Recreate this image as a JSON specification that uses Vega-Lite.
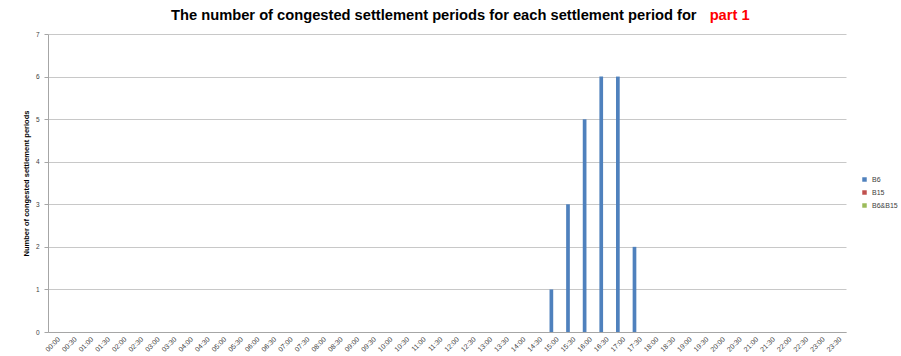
{
  "$schema": "https://vega.github.io/schema/vega-lite/v6.json",
  "width": 798,
  "height": 298,
  "autosize": {"type": "none"},
  "padding": {"left": 48, "top": 34, "right": 55, "bottom": 24},
  "background": "white",
  "title": {
    "text": "The number of congested settlement periods for each settlement period for",
    "subtitle": "\u200b\u00a0\u00a0\u00a0\u00a0\u00a0\u00a0\u00a0\u00a0\u00a0\u00a0\u00a0\u00a0\u00a0\u00a0\u00a0\u00a0\u00a0\u00a0\u00a0\u00a0\u00a0\u00a0\u00a0\u00a0\u00a0\u00a0\u00a0\u00a0\u00a0\u00a0\u00a0\u00a0\u00a0\u00a0\u00a0\u00a0\u00a0\u00a0\u00a0\u00a0\u00a0\u00a0\u00a0\u00a0\u00a0\u00a0\u00a0\u00a0\u00a0\u00a0\u00a0\u00a0\u00a0\u00a0\u00a0\u00a0\u00a0\u00a0\u00a0\u00a0\u00a0\u00a0\u00a0\u00a0\u00a0\u00a0\u00a0\u00a0\u00a0\u00a0\u00a0\u00a0\u00a0\u00a0\u00a0\u00a0\u00a0\u00a0\u00a0\u00a0\u00a0\u00a0\u00a0\u00a0\u00a0\u00a0\u00a0\u00a0\u00a0\u00a0\u00a0\u00a0\u00a0\u00a0\u00a0\u00a0\u00a0\u00a0\u00a0\u00a0\u00a0\u00a0\u00a0\u00a0\u00a0\u00a0\u00a0\u00a0\u00a0\u00a0\u00a0\u00a0\u00a0\u00a0\u00a0\u00a0\u00a0\u00a0\u00a0\u00a0\u00a0\u00a0\u00a0\u00a0\u00a0\u00a0\u00a0\u00a0\u00a0\u00a0\u00a0\u00a0part 1",
    "anchor": "start",
    "frame": "group",
    "dx": 123,
    "offset": 8,
    "font": "Liberation Sans",
    "fontSize": 14.7,
    "fontWeight": "bold",
    "color": "black",
    "subtitleFont": "Liberation Sans",
    "subtitleFontSize": 14.7,
    "subtitleFontWeight": "bold",
    "subtitleColor": "#ff0000",
    "subtitlePadding": -14.7
  },
  "data": {
    "values": [
      {"time": "00:00", "series": "B6", "count": 0},
      {"time": "00:30", "series": "B6", "count": 0},
      {"time": "01:00", "series": "B6", "count": 0},
      {"time": "01:30", "series": "B6", "count": 0},
      {"time": "02:00", "series": "B6", "count": 0},
      {"time": "02:30", "series": "B6", "count": 0},
      {"time": "03:00", "series": "B6", "count": 0},
      {"time": "03:30", "series": "B6", "count": 0},
      {"time": "04:00", "series": "B6", "count": 0},
      {"time": "04:30", "series": "B6", "count": 0},
      {"time": "05:00", "series": "B6", "count": 0},
      {"time": "05:30", "series": "B6", "count": 0},
      {"time": "06:00", "series": "B6", "count": 0},
      {"time": "06:30", "series": "B6", "count": 0},
      {"time": "07:00", "series": "B6", "count": 0},
      {"time": "07:30", "series": "B6", "count": 0},
      {"time": "08:00", "series": "B6", "count": 0},
      {"time": "08:30", "series": "B6", "count": 0},
      {"time": "09:00", "series": "B6", "count": 0},
      {"time": "09:30", "series": "B6", "count": 0},
      {"time": "10:00", "series": "B6", "count": 0},
      {"time": "10:30", "series": "B6", "count": 0},
      {"time": "11:00", "series": "B6", "count": 0},
      {"time": "11:30", "series": "B6", "count": 0},
      {"time": "12:00", "series": "B6", "count": 0},
      {"time": "12:30", "series": "B6", "count": 0},
      {"time": "13:00", "series": "B6", "count": 0},
      {"time": "13:30", "series": "B6", "count": 0},
      {"time": "14:00", "series": "B6", "count": 0},
      {"time": "14:30", "series": "B6", "count": 0},
      {"time": "15:00", "series": "B6", "count": 1},
      {"time": "15:30", "series": "B6", "count": 3},
      {"time": "16:00", "series": "B6", "count": 5},
      {"time": "16:30", "series": "B6", "count": 6},
      {"time": "17:00", "series": "B6", "count": 6},
      {"time": "17:30", "series": "B6", "count": 2},
      {"time": "18:00", "series": "B6", "count": 0},
      {"time": "18:30", "series": "B6", "count": 0},
      {"time": "19:00", "series": "B6", "count": 0},
      {"time": "19:30", "series": "B6", "count": 0},
      {"time": "20:00", "series": "B6", "count": 0},
      {"time": "20:30", "series": "B6", "count": 0},
      {"time": "21:00", "series": "B6", "count": 0},
      {"time": "21:30", "series": "B6", "count": 0},
      {"time": "22:00", "series": "B6", "count": 0},
      {"time": "22:30", "series": "B6", "count": 0},
      {"time": "23:00", "series": "B6", "count": 0},
      {"time": "23:30", "series": "B6", "count": 0}
    ]
  },
  "mark": {"type": "bar"},
  "encoding": {
    "x": {
      "field": "time",
      "type": "nominal",
      "sort": null,
      "scale": {"paddingInner": 0.333, "paddingOuter": 0.167},
      "axis": {
        "title": null,
        "labelAngle": -45,
        "labelFont": "Liberation Sans",
        "labelFontSize": 7,
        "labelColor": "#404040",
        "labelPadding": 3,
        "ticks": false,
        "domainColor": "#a6a6a6",
        "grid": false
      }
    },
    "xOffset": {
      "field": "series",
      "type": "nominal",
      "scale": {"domain": ["B6", "B15", "B6&B15"], "paddingInner": 0}
    },
    "y": {
      "field": "count",
      "type": "quantitative",
      "scale": {"domain": [0, 7], "nice": false},
      "axis": {
        "title": "Number of congested settlement periods",
        "titleFont": "Liberation Sans",
        "titleFontSize": 7.5,
        "titleFontWeight": "bold",
        "titleColor": "black",
        "titlePadding": 5,
        "values": [0, 1, 2, 3, 4, 5, 6, 7],
        "labelFont": "Liberation Sans",
        "labelFontSize": 6.5,
        "labelColor": "#404040",
        "labelPadding": 5,
        "tickSize": 4,
        "tickColor": "#a6a6a6",
        "domainColor": "#a6a6a6",
        "gridColor": "#c8c8c8"
      }
    },
    "color": {
      "field": "series",
      "type": "nominal",
      "scale": {"domain": ["B6", "B15", "B6&B15"], "range": ["#4f81bd", "#c0504d", "#9bbb59"]},
      "legend": {
        "title": null,
        "orient": "none",
        "legendX": 813,
        "legendY": 142,
        "symbolType": "square",
        "symbolSize": 20,
        "symbolStrokeWidth": 0,
        "labelFont": "Liberation Sans",
        "labelFontSize": 7,
        "labelColor": "#404040",
        "rowPadding": 5
      }
    }
  },
  "config": {
    "view": {"stroke": null}
  }
}
